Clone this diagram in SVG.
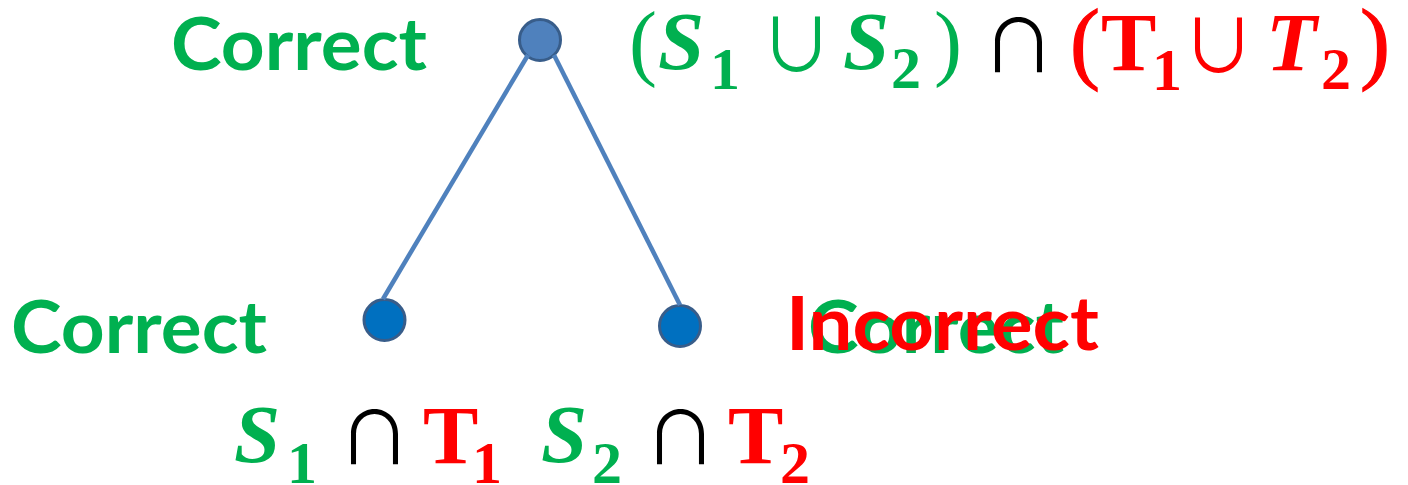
<svg xmlns="http://www.w3.org/2000/svg" width="1408" height="485" viewBox="0 0 1408 485">
<style>
.lbl{font-family:Lato,"Liberation Sans",sans-serif;font-weight:bold;}
.g{fill:#00B050;}
.r{fill:#FF0000;}
.k{fill:#000000;}
.var{font-family:"Liberation Serif",serif;font-weight:bold;font-size:83px;}
.it{font-style:italic;}
.sub{font-family:"Liberation Serif",serif;font-weight:bold;font-size:60px;}
.par{font-family:"Liberation Serif",serif;font-size:84px;}
.parb{font-family:"Liberation Serif",serif;font-size:90px;stroke:#FF0000;stroke-width:1.2;}
.op{font-family:"Noto Sans CJK JP",sans-serif;font-size:73px;text-anchor:middle;}
.node-top{fill:#4F81BD;stroke:#385D8A;stroke-width:3;}
.node{fill:#0070C0;stroke:#385D8A;stroke-width:3;}
.edge{stroke:#4F81BD;stroke-width:4.5;fill:none;}
</style>
<rect width="1408" height="485" fill="#FFFFFF"/>
<g id="node-root">
<circle class="node-top" cx="540" cy="40" r="20.5"/>
<text class="lbl g" x="171" y="70" font-size="72" textLength="256" lengthAdjust="spacingAndGlyphs">Correct</text>
<g id="root-formula">
<text class="par g" x="629" y="70">(</text>
<text class="var it g" x="658" y="69">S</text>
<text class="sub g" x="710" y="89">1</text>
<text class="op g" x="796.5" y="71">∪</text>
<text class="var it g" x="843" y="69">S</text>
<text class="sub g" x="891" y="88">2</text>
<text class="par g" x="934" y="70">)</text>
<text class="op k" x="1018.5" y="72">∩</text>
<text class="parb r" x="1070" y="72">(</text>
<text class="var r" x="1101" y="70">T</text>
<text class="sub r" x="1152" y="90">1</text>
<text class="op r" x="1218.5" y="72">∪</text>
<text class="var it r" x="1266" y="70">T</text>
<text class="sub r" x="1321" y="89">2</text>
<text class="parb r" x="1360" y="72">)</text>
</g>
</g>
<g id="node-left">
<circle class="node" cx="384.5" cy="320" r="20.5"/>
<text class="lbl g" x="11" y="353" font-size="72" textLength="256" lengthAdjust="spacingAndGlyphs">Correct</text>
<g id="left-formula">
<text class="var it g" x="234" y="462">S</text>
<text class="sub g" x="287" y="483">1</text>
<text class="op k" x="374.5" y="464">∩</text>
<text class="var r" x="423" y="463">T</text>
<text class="sub r" x="472" y="483">1</text>
</g>
</g>
<g id="node-right">
<circle class="node" cx="680" cy="326" r="20.5"/>
<text class="lbl g" x="808" y="353" font-size="72" textLength="256" lengthAdjust="spacingAndGlyphs">Correct</text>
<text class="lbl r" x="786" y="350" font-size="75" textLength="313" lengthAdjust="spacingAndGlyphs">Incorrect</text>
<g id="right-formula">
<text class="var it g" x="541" y="462">S</text>
<text class="sub g" x="592" y="483">2</text>
<text class="op k" x="680.5" y="464">∩</text>
<text class="var r" x="728" y="463">T</text>
<text class="sub r" x="780" y="483">2</text>
</g>
</g>
<g id="connectors">
<line class="edge" x1="528" y1="55" x2="383" y2="299"/>
<line class="edge" x1="554" y1="55" x2="680" y2="305"/>
</g>
</svg>
